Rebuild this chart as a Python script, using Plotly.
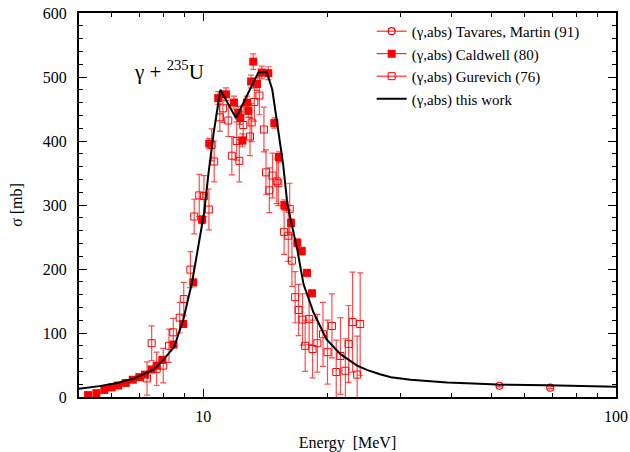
import plotly.graph_objects as go

# ---- data ----
# Gurevich (76), open squares with error bars
gur_e = [7.31, 7.50, 7.71, 8.0, 8.26, 8.46, 8.77, 8.97, 9.31, 9.51, 9.78, 10.04, 10.32,
         10.48, 10.63, 10.97, 11.16, 11.5, 11.73, 12.05, 12.23, 12.5, 12.98, 13.1, 13.3,
         13.68, 14.03, 14.19, 14.46, 14.72, 15.07, 15.2, 15.7, 16.07, 16.2, 16.4, 16.7,
         17.02, 17.4, 17.66, 18.05, 18.4, 18.9, 19.5, 20.0, 20.5, 21.0, 21.5, 22.1, 22.5,
         23.0, 23.6, 24.0]
gur_s = [29, 84, 44, 49, 80, 101, 124, 153, 199, 282, 315, 314, 293,
         394, 368, 437, 451, 432, 377, 400, 369, 425, 407, 429, 461,
         471, 418, 351, 323, 346, 337, 334, 258, 252, 294, 213, 156,
         136, 121, 80, 122, 75, 84, 98, 70, 111, 39, 64, 41, 83,
         117, 35, 114]
gur_err = [26, 27, 26, 27, 26, 22, 24, 26, 28, 27, 33, 32, 32,
           25, 32, 22, 22, 25, 30, 30, 33, 30, 30, 30, 30,
           30, 35, 35, 35, 35, 35, 35, 35, 40, 40, 40, 40,
           40, 40, 40, 40, 45, 45, 50, 50, 50, 50, 60, 50, 60,
           78, 60, 80]

# Caldwell (80), filled squares
cal_e = [5.26, 5.51, 5.76, 6.0, 6.22, 6.49, 6.75, 7.0, 7.23, 7.5, 7.71, 7.96, 8.47,
         8.94, 9.46, 9.94, 10.34, 10.87, 11.35, 11.87, 12.15, 12.3, 12.44, 12.76, 12.86,
         13.06, 13.22, 13.5, 13.86, 14.38, 14.87, 15.26, 15.72, 16.32, 16.9, 17.33,
         17.84, 18.34]
cal_s = [3, 6, 11, 15, 18, 22, 27, 31, 35, 43, 49, 58, 82,
         114, 179, 277, 396, 467, 473, 460, 444, 436, 401, 460, 447,
         493, 524, 489, 507, 506, 428, 375, 300, 272, 241, 228,
         194, 162]
cal_err = [1, 1, 1, 1, 1, 1, 1, 1, 2, 2, 2, 2, 3,
           4, 5, 6, 8, 10, 10, 10, 10, 10, 10, 10, 10,
           10, 12, 10, 10, 10, 8, 8, 8, 6, 6, 6,
           5, 5]

# Tavares, Martin (91), open circles
tav_e = [52.2, 69.3]
tav_s = [17.6, 14.5]
tav_err = [1.5, 1.5]

# this work (black curve)
cur_e = [5.0, 5.6, 6.2, 6.8, 7.6, 8.0, 8.5, 8.95, 9.4, 9.8, 10.05, 10.3, 10.6, 11.0,
         12.0, 13.6, 14.25, 14.7, 15.1, 15.6, 16.0, 16.9, 17.5, 18.5, 19.9, 21.5,
         23.6, 25.0, 26.8, 28.5, 31.8, 35.0, 39.0, 45.0, 51.5, 68.0, 100.0]
cur_s = [13, 17, 22, 29, 43, 58, 78, 121, 180, 244, 288, 350, 413, 480,
         436, 507, 508, 480, 428, 366, 300, 230, 176, 132, 90, 67,
         49, 42, 35.5, 31, 27, 24.5, 22.5, 21, 19.5, 18.5, 16]

x_major = [10, 100]
x_minor = [5, 6, 7, 8, 9, 20, 30, 40, 50, 60, 70, 80, 90]

RED = "#ff0000"
ERR = "rgba(255,0,0,0.7)"
FONT = "'Liberation Serif', 'Times New Roman', Times, serif"

fig = go.Figure()

fig.add_trace(go.Scatter(
    x=gur_e, y=gur_s, mode="markers", showlegend=False,
    marker=dict(symbol="square-open", size=7, color=RED, line=dict(width=1, color=RED)),
    error_y=dict(type="data", array=gur_err, color=ERR, thickness=1.2, width=3)))
fig.add_trace(go.Scatter(
    x=cal_e, y=cal_s, mode="markers", showlegend=False,
    marker=dict(symbol="square", size=8, color=RED),
    error_y=dict(type="data", array=cal_err, color=ERR, thickness=1.2, width=3)))
fig.add_trace(go.Scatter(
    x=tav_e, y=tav_s, mode="markers", showlegend=False,
    marker=dict(symbol="circle-open", size=7, color=RED, line=dict(width=1.2, color=RED)),
    error_y=dict(type="data", array=tav_err, color=ERR, thickness=1.2, width=3)))
fig.add_trace(go.Scatter(
    x=cur_e, y=cur_s, mode="lines", showlegend=False,
    line=dict(color="black", width=2)))

# legend entries
fig.add_trace(go.Scatter(x=[None], y=[None], mode="lines+markers",
                         name="(γ,abs) Tavares, Martin (91)",
                         line=dict(color=RED, width=1),
                         marker=dict(symbol="circle-open", size=7, color=RED, line=dict(width=1.2, color=RED))))
fig.add_trace(go.Scatter(x=[None], y=[None], mode="lines+markers",
                         name="(γ,abs) Caldwell (80)",
                         line=dict(color=RED, width=1),
                         marker=dict(symbol="square", size=8, color=RED)))
fig.add_trace(go.Scatter(x=[None], y=[None], mode="lines+markers",
                         name="(γ,abs) Gurevich (76)",
                         line=dict(color=RED, width=1),
                         marker=dict(symbol="square-open", size=7, color=RED, line=dict(width=1, color=RED))))
fig.add_trace(go.Scatter(x=[None], y=[None], mode="lines",
                         name="(γ,abs) this work",
                         line=dict(color="black", width=2)))

fig.update_layout(
    width=630, height=452,
    margin=dict(l=79, r=14, t=13, b=55, autoexpand=False),
    paper_bgcolor="white", plot_bgcolor="white",
    font=dict(family=FONT, size=15, color="black"),
    showlegend=True,
    legend=dict(x=0.545, y=0.995, xanchor="left", yanchor="top",
                bgcolor="rgba(0,0,0,0)", borderwidth=0,
                font=dict(family=FONT, size=15, color="black"),
                itemwidth=30, tracegroupgap=0),
    xaxis=dict(type="log", range=[0.699, 2.0], automargin=False,
               tickvals=x_major, ticktext=["10", "100"],
               ticks="inside", ticklen=8, tickwidth=1, tickcolor="black",
               minor=dict(tickvals=x_minor, ticks="inside", ticklen=4, tickwidth=1, tickcolor="black"),
               showline=True, linecolor="black", linewidth=2, mirror="ticks",
               showgrid=False, zeroline=False, ticklabelstandoff=4,
               tickfont=dict(family=FONT, size=16),
               title=dict(text="Energy  [MeV]", font=dict(family=FONT, size=16), standoff=14)),
    yaxis=dict(range=[0, 600], dtick=100, tick0=0, automargin=False,
               ticks="inside", ticklen=8, tickwidth=1, tickcolor="black",
               minor=dict(dtick=20, ticks="inside", ticklen=4, tickwidth=1, tickcolor="black"),
               showline=True, linecolor="black", linewidth=2, mirror="ticks",
               showgrid=False, zeroline=False, ticklabelstandoff=7,
               tickfont=dict(family=FONT, size=16),
               title=dict(text="σ [mb]", font=dict(family=FONT, size=16), standoff=16)),
    annotations=[dict(text="γ + <sup>235</sup>U", x=0.099, y=0.85, xref="paper", yref="paper",
                      xanchor="left", yanchor="middle", showarrow=False,
                      font=dict(family=FONT, size=21, color="black"))],
)

fig.write_html("out.html")
